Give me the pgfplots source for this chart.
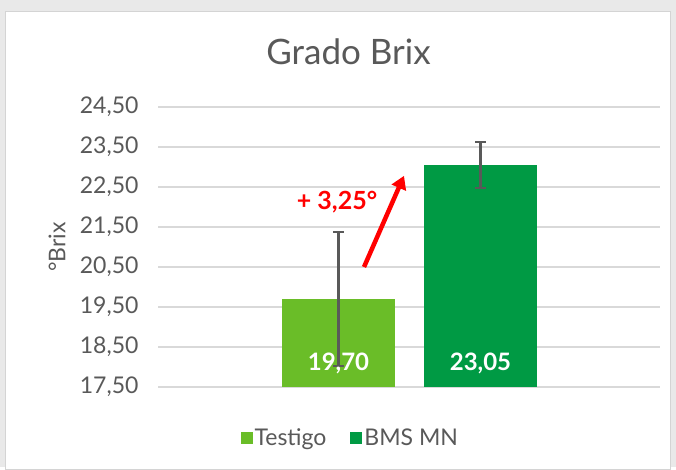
\documentclass[border=0pt]{standalone}
\usepackage{pgfplots}
\pgfplotsset{compat=1.18}
\usetikzlibrary{arrows.meta}
\usepackage{fontspec}
\setmainfont{Lato}
\definecolor{bgray}{HTML}{E9E9E9}
\definecolor{pframe}{HTML}{D4D4D4}
\definecolor{txt}{HTML}{595959}
\definecolor{gridc}{HTML}{D9D9D9}
\definecolor{lgreen}{HTML}{6ABD28}
\definecolor{dgreen}{HTML}{009A44}
\begin{document}
\begin{tikzpicture}[x=1pt,y=1pt]
\fill[bgray] (0,0) rectangle (676,467);
\fill[white,draw=pframe,line width=1pt] (5,-2) rectangle (670,455);
\node[txt,font=\fontsize{35}{40}\selectfont] at (348.5,415) {Grado Brix};
\begin{axis}[
  at={(158pt,80pt)}, anchor=south west,
  scale only axis, width=502pt, height=280pt,
  xmin=158, xmax=660, ymin=17.5, ymax=24.5,
  xtick=\empty,
  ytick={17.5,18.5,...,24.5},
  ymajorgrids, major grid style={gridc,line width=1.5pt},
  axis line style={draw=none},
  tick style={draw=none},
  /pgf/number format/fixed, /pgf/number format/fixed zerofill,
  /pgf/number format/precision=2, /pgf/number format/use comma,
  /pgf/number format/assume math mode=true,
  every tick label/.append style={font=\fontsize{23}{26}\selectfont, text=txt},
  yticklabel style={xshift=-16pt},
  ylabel={°Brix},
  every axis y label/.style={at={(axis description cs:-0.201,0.5)}, rotate=90, anchor=center,
    font=\fontsize{23}{26}\selectfont, text=txt},
  ybar, bar width=113,
  legend columns=2,
  legend style={draw=none, fill=none, at={(0.383,-0.183)}, anchor=center,
    font=\fontsize{23}{26}\selectfont, text=txt,
    /tikz/every even column/.append style={column sep=22pt}},
  legend image code/.code={\fill[#1,draw=none] (0pt,-6pt) rectangle (12pt,6pt);},
  error bars/error bar style={txt, line width=2.2pt},
  error bars/error mark options={txt, line width=2.2pt, mark size=5.5pt, rotate=90},
]
\addplot[fill=lgreen, draw=none, bar shift=0pt,
  error bars/.cd, y dir=both, y explicit]
  coordinates {(338.5,19.70) +- (0,1.68)};
\addlegendentry{Testigo}
\addplot[fill=dgreen, draw=none, bar shift=0pt,
  error bars/.cd, y dir=both, y explicit]
  coordinates {(480.5,23.05) +- (0,0.58)};
\addlegendentry{BMS MN}
\node[white, font=\bfseries\fontsize{24}{28}\selectfont] at (axis cs:338.5,18.1) {19,70};
\node[white, font=\bfseries\fontsize{24}{28}\selectfont] at (axis cs:480.5,18.1) {23,05};
\draw[red, line width=4.5pt, -{Triangle[length=13pt,width=15pt]}] (axis cs:364,20.5) -- (axis cs:404,22.78);
\node[red, font=\bfseries\fontsize{25}{28}\selectfont] at (axis cs:337,22.13) {+ 3,25°};
\end{axis}
\end{tikzpicture}
\end{document}
